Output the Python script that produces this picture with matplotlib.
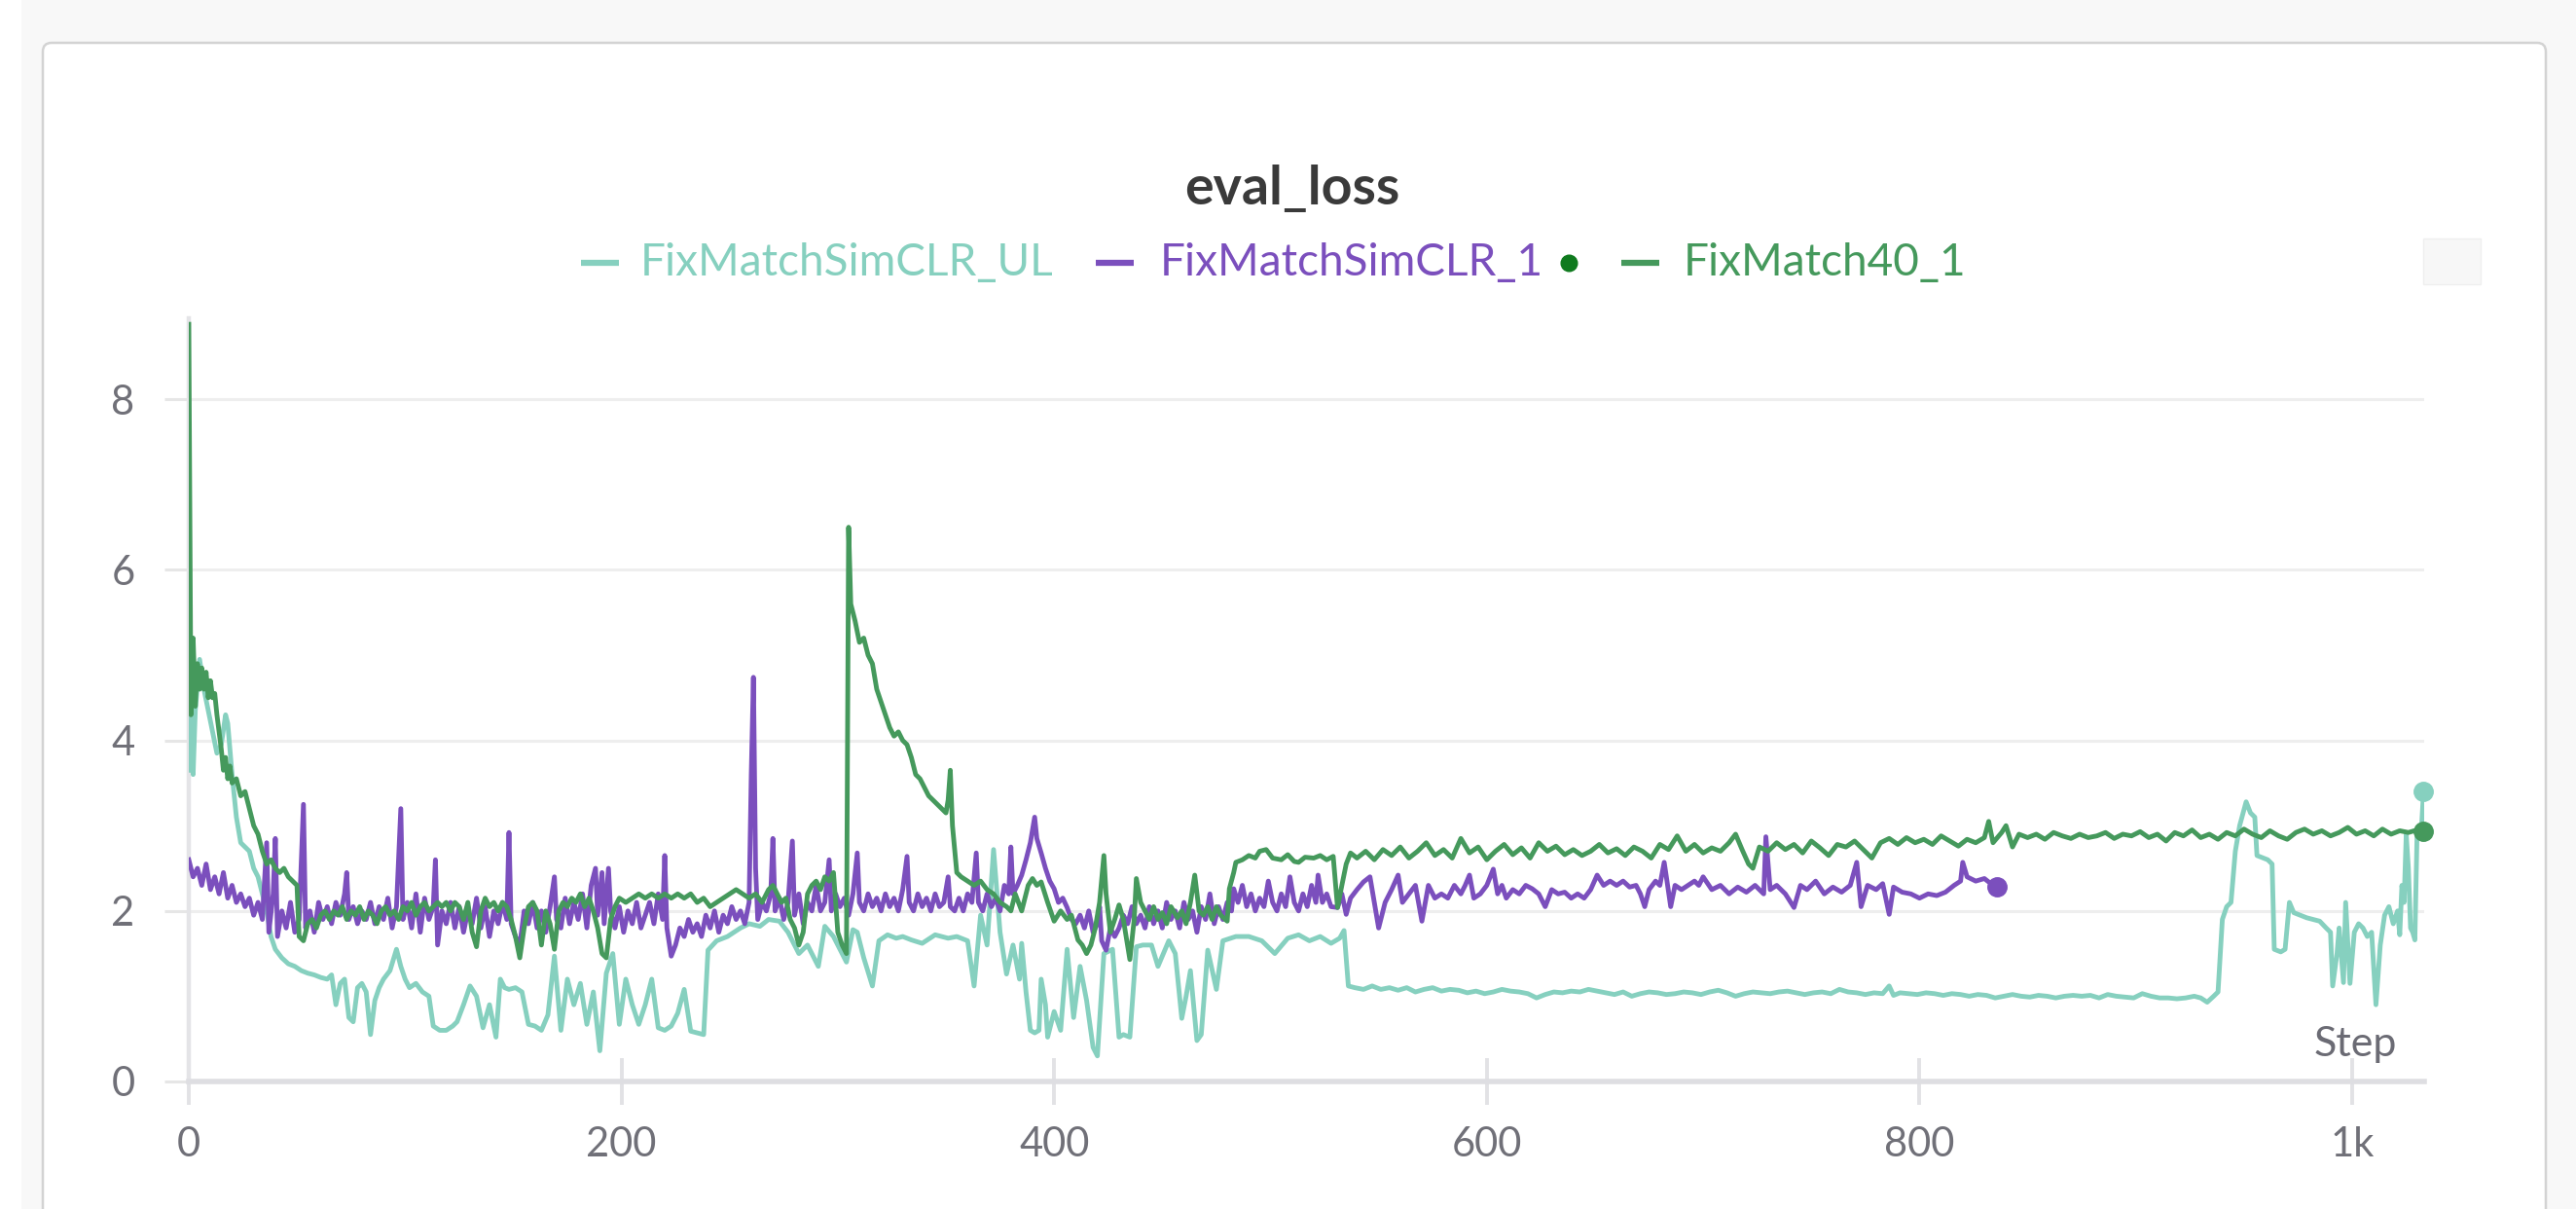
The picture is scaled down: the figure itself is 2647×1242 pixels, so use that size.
import matplotlib
matplotlib.use("Agg")
import matplotlib.pyplot as plt
from matplotlib.patches import FancyBboxPatch, Rectangle
from matplotlib.lines import Line2D

plt.rcParams["font.family"] = ["Lato", "DejaVu Sans"]

# eval_loss per step
ul_points = [
    (0, 3.65), (1, 4.4), (2, 3.6), (3, 4.35), (5, 4.95), (7, 4.6), (9, 4.35), (11, 4.1), (13, 3.85),
    (15, 3.95), (17, 4.3), (18, 4.2), (20, 3.6), (22, 3.1), (24, 2.8), (26, 2.75), (28, 2.7), (30, 2.5),
    (32, 2.4), (34, 2.2), (36, 2.0), (38, 1.7), (40, 1.55), (43, 1.45), (46, 1.38), (49, 1.35), (52, 1.3),
    (55, 1.27), (58, 1.25), (61, 1.22), (64, 1.2), (66, 1.25), (68, 0.9), (70, 1.15), (72, 1.2), (74, 0.75),
    (76, 0.7), (78, 1.1), (80, 1.15), (82, 1.05), (84, 0.55), (86, 0.95), (88, 1.1), (90, 1.2), (93, 1.3),
    (96, 1.55), (98, 1.35), (100, 1.2), (102, 1.1), (105, 1.15), (108, 1.05), (111, 1.0), (113, 0.65),
    (116, 0.6), (119, 0.6), (122, 0.65), (124, 0.7), (127, 0.9), (130, 1.12), (133, 1.0), (136, 0.63),
    (139, 0.9), (142, 0.52), (144, 1.2), (146, 1.1), (148, 1.08), (151, 1.1), (154, 1.05), (157, 0.67),
    (160, 0.65), (163, 0.6), (166, 0.78), (169, 1.47), (172, 0.6), (175, 1.2), (178, 0.9), (181, 1.15),
    (184, 0.67), (187, 1.05), (190, 0.36), (193, 1.27), (196, 1.5), (199, 0.67), (202, 1.2), (205, 0.9),
    (208, 0.67), (211, 0.9), (214, 1.2), (217, 0.63), (220, 0.6), (223, 0.65), (226, 0.8), (229, 1.08),
    (232, 0.59), (235, 0.57), (238, 0.55), (240, 1.54), (244, 1.65), (249, 1.7), (255, 1.8), (259, 1.85),
    (264, 1.82), (268, 1.9), (273, 1.88), (277, 1.75), (282, 1.5), (286, 1.6), (291, 1.35), (294, 1.82),
    (298, 1.7), (301, 1.55), (304, 1.4), (307, 1.78), (309, 1.75), (312, 1.45), (316, 1.12), (319, 1.65),
    (323, 1.72), (327, 1.68), (330, 1.7), (334, 1.66), (339, 1.62), (345, 1.72), (351, 1.68), (355, 1.7),
    (360, 1.65), (363, 1.12), (366, 1.95), (369, 1.6), (372, 2.72), (375, 1.75), (378, 1.26), (381, 1.6),
    (384, 1.2), (385, 1.62), (387, 1.05), (389, 0.6), (391, 0.57), (393, 0.6), (394, 1.2), (396, 0.9),
    (397, 0.52), (400, 0.82), (403, 0.6), (406, 1.55), (409, 0.75), (412, 1.35), (415, 0.95), (418, 0.4),
    (420, 0.3), (423, 1.5), (427, 1.55), (430, 0.52), (432, 0.55), (435, 0.52), (438, 1.58), (441, 1.6),
    (445, 1.6), (448, 1.35), (453, 1.65), (456, 1.5), (459, 0.74), (461, 1.0), (463, 1.3), (466, 0.48),
    (468, 0.55), (471, 1.54), (475, 1.08), (478, 1.65), (484, 1.7), (490, 1.7), (496, 1.65), (502, 1.5),
    (508, 1.68), (513, 1.72), (518, 1.65), (523, 1.7), (528, 1.62), (532, 1.68), (534, 1.77), (536, 1.12),
    (539, 1.1), (543, 1.08), (547, 1.12), (551, 1.08), (555, 1.1), (559, 1.07), (563, 1.1), (567, 1.05),
    (571, 1.08), (575, 1.1), (579, 1.06), (583, 1.08), (587, 1.07), (591, 1.04), (595, 1.06), (599, 1.03),
    (603, 1.05), (607, 1.08), (611, 1.06), (615, 1.05), (619, 1.03), (623, 0.98), (627, 1.02), (631, 1.05),
    (635, 1.04), (639, 1.06), (643, 1.05), (647, 1.08), (651, 1.06), (655, 1.04), (659, 1.02), (663, 1.05),
    (667, 1.0), (671, 1.03), (675, 1.05), (679, 1.04), (683, 1.02), (687, 1.03), (691, 1.05), (695, 1.04),
    (699, 1.02), (703, 1.05), (707, 1.07), (711, 1.04), (715, 1.0), (719, 1.03), (723, 1.05), (727, 1.04),
    (731, 1.03), (735, 1.05), (739, 1.06), (743, 1.04), (747, 1.02), (751, 1.04), (755, 1.05), (759, 1.03),
    (763, 1.08), (767, 1.05), (771, 1.04), (775, 1.02), (779, 1.04), (783, 1.03), (786, 1.12), (788, 1.01),
    (791, 1.04), (795, 1.03), (799, 1.02), (803, 1.04), (807, 1.03), (811, 1.01), (815, 1.03), (819, 1.02),
    (823, 1.0), (827, 1.02), (831, 1.01), (835, 0.98), (839, 1.0), (843, 1.02), (847, 1.0), (851, 0.99),
    (855, 1.01), (859, 1.0), (863, 0.98), (867, 1.0), (871, 1.01), (875, 1.0), (879, 1.01), (883, 0.98),
    (887, 1.02), (891, 1.0), (895, 0.99), (899, 0.98), (903, 1.03), (907, 1.0), (911, 0.98), (915, 0.98),
    (919, 0.97), (923, 0.98), (927, 1.0), (930, 0.98), (933, 0.93), (936, 1.0), (938, 1.05), (940, 1.9),
    (942, 2.05), (944, 2.1), (946, 2.7), (948, 3.0), (951, 3.28), (953, 3.15), (955, 3.1), (956, 2.65),
    (959, 2.62), (961, 2.6), (963, 2.55), (964, 1.55), (967, 1.52), (969, 1.55), (971, 2.1), (973, 1.98),
    (976, 1.95), (979, 1.92), (982, 1.9), (985, 1.88), (988, 1.8), (990, 1.75), (991, 1.12), (993, 1.5),
    (994, 1.8), (996, 1.16), (997, 2.1), (999, 1.15), (1001, 1.75), (1003, 1.85), (1005, 1.8), (1007, 1.7),
    (1009, 1.75), (1011, 0.9), (1013, 1.6), (1015, 1.95), (1017, 2.05), (1019, 1.85), (1021, 2.0),
    (1022, 1.72), (1023, 2.3), (1024, 2.1), (1025, 2.9), (1026, 2.5), (1027, 1.8), (1028, 1.75),
    (1029, 1.66), (1030, 2.9), (1031, 2.9), (1032, 2.95), (1033, 3.4),
]

simclr_points = [
    (0, 2.6), (2, 2.4), (4, 2.5), (6, 2.3), (8, 2.55), (10, 2.25), (12, 2.4), (14, 2.2), (16, 2.45),
    (18, 2.15), (20, 2.3), (22, 2.1), (24, 2.2), (26, 2.05), (28, 2.15), (30, 1.95), (32, 2.1), (34, 1.9),
    (36, 2.8), (37, 1.75), (39, 2.2), (40, 2.85), (41, 1.7), (43, 2.0), (45, 1.8), (47, 2.1), (49, 1.75),
    (51, 1.9), (53, 3.25), (54, 1.8), (56, 2.0), (58, 1.75), (60, 2.1), (62, 1.9), (64, 2.05), (66, 1.85),
    (68, 2.1), (70, 1.95), (72, 2.2), (73, 2.45), (74, 1.9), (76, 2.05), (78, 1.85), (80, 2.0), (82, 1.9),
    (84, 2.1), (86, 1.85), (88, 2.05), (90, 1.9), (92, 2.15), (94, 1.8), (96, 2.05), (98, 3.2), (99, 1.9),
    (101, 2.1), (103, 1.8), (105, 2.2), (107, 1.75), (109, 2.15), (111, 1.9), (113, 2.05), (114, 2.6),
    (115, 1.6), (117, 2.0), (119, 1.85), (121, 2.1), (123, 1.8), (125, 2.05), (127, 1.75), (129, 2.0),
    (131, 1.85), (133, 2.15), (135, 1.8), (137, 2.05), (139, 1.7), (141, 2.0), (143, 1.85), (145, 2.1),
    (147, 1.9), (148, 2.92), (149, 1.85), (151, 1.7), (153, 1.6), (155, 2.0), (157, 1.85), (159, 2.1),
    (161, 1.8), (163, 2.0), (165, 1.75), (167, 2.05), (169, 2.4), (170, 1.9), (172, 1.8), (174, 2.15),
    (176, 1.85), (178, 2.1), (180, 1.9), (182, 2.2), (184, 1.8), (186, 2.3), (188, 2.5), (189, 1.95),
    (191, 2.45), (192, 1.85), (194, 2.5), (195, 2.0), (197, 1.8), (199, 2.05), (201, 1.75), (203, 2.0),
    (205, 1.85), (207, 2.1), (209, 1.8), (211, 1.95), (213, 2.1), (215, 1.85), (217, 2.2), (219, 1.9),
    (220, 2.65), (221, 1.8), (223, 1.47), (225, 1.6), (227, 1.8), (229, 1.7), (231, 1.9), (233, 1.75),
    (235, 1.85), (237, 1.7), (239, 1.95), (241, 1.8), (243, 2.0), (245, 1.75), (247, 1.95), (249, 1.85),
    (251, 2.05), (253, 1.9), (255, 2.0), (257, 1.85), (259, 2.1), (260, 3.6), (261, 4.74), (262, 2.5),
    (263, 1.9), (265, 2.1), (267, 2.0), (269, 2.2), (270, 2.85), (271, 2.0), (273, 2.15), (275, 1.9),
    (277, 2.1), (279, 2.82), (280, 1.95), (282, 2.2), (284, 1.85), (286, 2.1), (288, 2.0), (290, 2.3),
    (292, 2.0), (294, 2.1), (296, 2.6), (297, 2.0), (299, 2.2), (301, 2.05), (303, 2.15), (305, 1.95),
    (307, 2.2), (309, 2.68), (310, 2.1), (312, 2.0), (314, 2.2), (316, 2.05), (318, 2.15), (320, 2.0),
    (322, 2.2), (324, 2.05), (326, 2.15), (328, 2.0), (330, 2.25), (332, 2.64), (333, 2.1), (335, 2.0),
    (337, 2.2), (339, 2.05), (341, 2.15), (343, 2.0), (345, 2.2), (347, 2.05), (349, 2.1), (351, 2.4),
    (352, 2.05), (354, 2.0), (356, 2.15), (358, 2.0), (360, 2.2), (362, 2.1), (364, 2.68), (365, 2.1),
    (367, 2.0), (369, 2.2), (371, 2.05), (373, 2.15), (375, 2.0), (377, 2.3), (379, 2.2), (380, 2.75),
    (381, 2.2), (383, 2.3), (385, 2.42), (387, 2.6), (389, 2.8), (391, 3.1), (392, 2.85), (394, 2.68),
    (396, 2.5), (398, 2.35), (400, 2.26), (402, 2.1), (404, 2.15), (406, 2.04), (408, 1.9), (410, 1.85),
    (412, 1.95), (414, 1.8), (416, 2.0), (418, 1.75), (420, 1.85), (421, 2.05), (422, 1.65), (424, 1.54),
    (426, 1.8), (428, 1.7), (430, 1.8), (432, 1.95), (434, 1.85), (436, 2.05), (438, 1.85), (440, 1.95),
    (442, 1.8), (444, 2.05), (446, 1.85), (448, 2.0), (450, 1.8), (452, 2.1), (454, 1.9), (456, 2.0),
    (458, 1.8), (460, 2.1), (462, 1.9), (464, 2.0), (466, 1.75), (468, 2.05), (470, 1.9), (472, 2.2),
    (474, 1.85), (476, 2.05), (478, 1.9), (480, 2.1), (482, 2.0), (483, 2.26), (485, 2.1), (487, 2.3),
    (489, 2.05), (491, 2.2), (493, 2.0), (495, 2.15), (497, 2.05), (499, 2.35), (501, 2.1), (503, 2.0),
    (505, 2.2), (507, 2.05), (509, 2.4), (511, 2.1), (513, 2.0), (515, 2.2), (517, 2.05), (519, 2.3),
    (521, 2.1), (522, 2.42), (524, 2.1), (526, 2.2), (528, 2.05), (531, 2.04), (533, 2.2), (535, 1.96),
    (537, 2.15), (540, 2.25), (543, 2.34), (546, 2.4), (548, 2.1), (550, 1.8), (552, 2.0), (553, 2.1),
    (556, 2.25), (559, 2.42), (561, 2.1), (564, 2.2), (567, 2.3), (570, 1.88), (573, 2.3), (576, 2.15),
    (579, 2.2), (582, 2.15), (585, 2.3), (588, 2.2), (590, 2.3), (592, 2.42), (594, 2.15), (597, 2.2),
    (600, 2.3), (603, 2.49), (605, 2.2), (607, 2.3), (609, 2.15), (612, 2.25), (615, 2.2), (618, 2.3),
    (621, 2.26), (624, 2.2), (627, 2.05), (630, 2.25), (633, 2.2), (636, 2.22), (639, 2.15), (642, 2.2),
    (645, 2.15), (648, 2.25), (651, 2.42), (654, 2.3), (657, 2.35), (660, 2.3), (663, 2.35), (666, 2.28),
    (669, 2.3), (671, 2.2), (673, 2.05), (675, 2.25), (678, 2.35), (680, 2.3), (682, 2.57), (683, 2.4),
    (685, 2.05), (687, 2.3), (690, 2.25), (693, 2.3), (696, 2.35), (698, 2.3), (700, 2.4), (704, 2.25),
    (708, 2.3), (712, 2.2), (716, 2.28), (720, 2.22), (724, 2.3), (728, 2.2), (729, 2.87), (731, 2.25),
    (734, 2.3), (738, 2.2), (742, 2.04), (745, 2.3), (748, 2.25), (752, 2.35), (756, 2.2), (760, 2.28),
    (764, 2.22), (768, 2.3), (771, 2.57), (773, 2.05), (776, 2.3), (780, 2.25), (783, 2.32), (786, 1.96),
    (788, 2.28), (792, 2.22), (796, 2.2), (800, 2.15), (804, 2.2), (808, 2.18), (812, 2.22), (816, 2.3),
    (819, 2.35), (820, 2.57), (822, 2.4), (826, 2.35), (830, 2.38), (833, 2.32), (836, 2.28),
]

fm40_points = [
    (0, 8.88), (1, 4.3), (2, 5.2), (3, 4.4), (4, 4.9), (5, 4.6), (6, 4.85), (7, 4.6), (8, 4.8), (9, 4.5),
    (10, 4.7), (11, 4.5), (12, 4.55), (13, 4.3), (14, 4.1), (15, 3.9), (16, 3.65), (17, 3.8), (18, 3.55),
    (19, 3.7), (20, 3.5), (22, 3.55), (24, 3.35), (26, 3.4), (28, 3.2), (30, 3.0), (32, 2.9), (34, 2.7),
    (36, 2.55), (38, 2.6), (40, 2.5), (42, 2.45), (44, 2.5), (46, 2.4), (48, 2.35), (50, 2.3), (51, 1.7),
    (53, 1.65), (55, 1.85), (57, 1.9), (59, 1.8), (61, 1.95), (63, 2.0), (65, 1.9), (67, 2.0), (69, 1.95),
    (71, 2.05), (73, 1.9), (75, 2.0), (77, 1.95), (79, 2.05), (81, 1.9), (83, 2.0), (85, 1.95), (87, 1.85),
    (89, 2.0), (91, 2.05), (93, 1.95), (95, 2.0), (97, 1.9), (99, 2.05), (101, 2.0), (103, 2.1), (105, 1.95),
    (107, 2.05), (109, 2.1), (111, 2.0), (113, 2.05), (115, 2.1), (117, 2.05), (119, 2.1), (121, 2.0),
    (123, 2.1), (125, 2.05), (127, 1.9), (129, 2.1), (131, 1.75), (133, 1.58), (135, 2.0), (137, 2.15),
    (139, 2.05), (141, 2.1), (143, 2.0), (145, 2.1), (147, 2.05), (149, 1.9), (151, 1.7), (153, 1.45),
    (155, 1.8), (157, 2.05), (159, 2.1), (161, 2.0), (163, 1.6), (165, 2.0), (167, 1.85), (169, 1.55),
    (171, 2.0), (173, 2.1), (175, 2.05), (177, 2.15), (179, 2.1), (181, 2.2), (183, 2.05), (185, 2.15),
    (187, 2.0), (189, 1.8), (191, 1.5), (193, 1.45), (195, 1.9), (197, 2.05), (199, 2.15), (202, 2.1),
    (205, 2.15), (208, 2.2), (211, 2.15), (214, 2.2), (217, 2.15), (220, 2.2), (223, 2.15), (226, 2.2),
    (229, 2.15), (232, 2.2), (235, 2.1), (238, 2.15), (241, 2.05), (244, 2.1), (247, 2.15), (250, 2.2),
    (253, 2.25), (256, 2.2), (259, 2.15), (262, 2.2), (265, 2.1), (268, 2.25), (270, 2.3), (272, 2.2),
    (274, 2.1), (276, 2.15), (278, 1.9), (280, 1.8), (282, 1.6), (284, 1.75), (286, 2.2), (288, 2.3),
    (290, 2.35), (292, 2.25), (294, 2.4), (296, 2.35), (298, 2.45), (300, 1.75), (302, 1.6), (304, 1.5),
    (305, 6.5), (306, 5.6), (308, 5.4), (310, 5.15), (312, 5.2), (314, 5.0), (316, 4.9), (318, 4.6),
    (320, 4.45), (322, 4.3), (324, 4.15), (326, 4.05), (328, 4.1), (330, 4.0), (332, 3.95), (334, 3.8),
    (336, 3.6), (338, 3.55), (340, 3.45), (342, 3.35), (344, 3.3), (346, 3.25), (348, 3.2), (350, 3.15),
    (351, 3.3), (352, 3.65), (353, 3.0), (355, 2.45), (357, 2.4), (360, 2.35), (363, 2.3), (366, 2.35),
    (369, 2.25), (372, 2.2), (375, 2.1), (378, 2.05), (380, 2.0), (382, 2.2), (385, 2.0), (388, 2.3),
    (390, 2.38), (392, 2.3), (394, 2.34), (397, 2.1), (400, 1.88), (403, 2.0), (406, 1.9), (408, 1.95),
    (411, 1.66), (413, 1.6), (415, 1.5), (417, 1.6), (419, 1.8), (421, 2.1), (423, 2.65), (424, 2.2),
    (426, 1.75), (428, 1.9), (430, 2.07), (432, 1.9), (435, 1.43), (437, 1.9), (438, 2.38), (440, 2.1),
    (442, 2.0), (444, 1.9), (446, 2.05), (448, 1.9), (450, 1.98), (452, 1.85), (454, 2.05), (457, 1.92),
    (459, 2.0), (461, 1.85), (463, 2.1), (465, 2.42), (467, 2.0), (469, 1.95), (471, 2.05), (473, 1.9),
    (475, 2.05), (477, 1.95), (480, 1.88), (481, 2.26), (483, 2.45), (484, 2.57), (487, 2.6), (490, 2.65),
    (493, 2.62), (495, 2.7), (498, 2.72), (501, 2.62), (505, 2.6), (508, 2.66), (511, 2.58), (513, 2.57),
    (516, 2.63), (520, 2.62), (523, 2.65), (526, 2.6), (529, 2.64), (531, 2.04), (533, 2.3), (535, 2.55),
    (537, 2.68), (540, 2.62), (544, 2.7), (548, 2.6), (552, 2.72), (556, 2.65), (560, 2.75), (564, 2.62),
    (568, 2.7), (572, 2.8), (576, 2.65), (580, 2.72), (584, 2.62), (588, 2.85), (592, 2.68), (596, 2.75),
    (600, 2.6), (604, 2.7), (608, 2.78), (612, 2.66), (616, 2.74), (620, 2.62), (624, 2.8), (628, 2.7),
    (632, 2.76), (636, 2.66), (640, 2.72), (644, 2.65), (648, 2.7), (652, 2.78), (656, 2.68), (660, 2.73),
    (664, 2.65), (668, 2.75), (672, 2.7), (676, 2.62), (680, 2.78), (684, 2.72), (688, 2.88), (692, 2.7),
    (696, 2.78), (700, 2.68), (704, 2.74), (708, 2.7), (712, 2.8), (715, 2.9), (718, 2.72), (721, 2.55),
    (723, 2.5), (726, 2.75), (730, 2.7), (734, 2.8), (738, 2.72), (742, 2.78), (746, 2.68), (750, 2.82),
    (754, 2.74), (758, 2.65), (762, 2.78), (766, 2.75), (770, 2.82), (774, 2.72), (778, 2.62), (782, 2.8),
    (786, 2.85), (790, 2.78), (794, 2.86), (798, 2.8), (802, 2.84), (806, 2.78), (810, 2.88), (814, 2.82),
    (818, 2.76), (822, 2.84), (826, 2.8), (830, 2.86), (832, 3.05), (834, 2.8), (838, 2.92), (840, 3.0),
    (843, 2.75), (846, 2.9), (850, 2.86), (854, 2.9), (858, 2.84), (862, 2.92), (866, 2.88), (870, 2.85),
    (874, 2.9), (878, 2.86), (882, 2.88), (886, 2.92), (890, 2.85), (894, 2.9), (898, 2.88), (902, 2.93),
    (906, 2.86), (910, 2.9), (914, 2.82), (918, 2.92), (922, 2.88), (926, 2.95), (930, 2.86), (934, 2.9),
    (938, 2.84), (942, 2.92), (946, 2.88), (950, 2.96), (954, 2.9), (958, 2.86), (962, 2.94), (966, 2.88),
    (970, 2.84), (974, 2.92), (978, 2.96), (982, 2.9), (986, 2.94), (990, 2.88), (994, 2.92), (998, 2.98),
    (1002, 2.9), (1006, 2.94), (1010, 2.88), (1014, 2.96), (1018, 2.9), (1022, 2.94), (1026, 2.92),
    (1030, 2.95), (1033, 2.93),
]

run_names = ["FixMatchSimCLR_UL", "FixMatchSimCLR_1", "FixMatch40_1"]
run_colors = ["#86d0bf", "#7b4fbd", "#45995c"]
x_ticks = [0, 200, 400, 600, 800, 1000]
x_labels = ["0", "200", "400", "600", "800", "1k"]
y_ticks = [0, 2, 4, 6, 8]

W, H = 2647, 1242
fig = plt.figure(figsize=(W / 100, H / 100), dpi=100, facecolor="#f8f8f8")

# page background + card
fig.patches.append(Rectangle((0, 0), 22 / W, 1, transform=fig.transFigure,
                             facecolor="white", edgecolor="none", zorder=-3))
card = FancyBboxPatch((0.44, -0.5), 26.16 - 0.44, 11.98 + 0.5,
                      boxstyle="round,pad=0,rounding_size=0.09",
                      transform=fig.dpi_scale_trans, facecolor="white",
                      edgecolor="#d3d3d3", linewidth=1.8, zorder=-2)
fig.patches.append(card)
fig.patches.append(Rectangle((2490 / W, 1 - 292 / H), 59 / W, 47 / H, transform=fig.transFigure,
                             facecolor="#f7f7f7", edgecolor="#efefef", linewidth=1, zorder=-1))

ax = fig.add_axes([194 / W, 131 / H, (2491 - 194) / W, (915 - 131) / H])
ax.set_zorder(2)
ax.set_facecolor("none")

series = [ul_points, simclr_points, fm40_points]
for pts, color in zip(series, run_colors):
    xs = [p[0] for p in pts]
    ys = [p[1] for p in pts]
    ax.plot(xs, ys, color=color, lw=3.5, solid_joinstyle="round", zorder=3)
    ax.plot(xs[-1:], ys[-1:], "o", color=color, ms=14, clip_on=False, zorder=4)

ax.set_xlim(0, 1033.3)
ax.set_ylim(0, 8.95)
ax.set_xticks(x_ticks)
ax.set_xticklabels(x_labels)
ax.set_yticks(y_ticks)

for s in ["top", "right"]:
    ax.spines[s].set_visible(False)
ax.spines["left"].set_color("#e4e4e7")
ax.spines["left"].set_linewidth(3.2)
ax.spines["bottom"].set_color("#dedee2")
ax.spines["bottom"].set_linewidth(4.0)

ax.grid(axis="y", color="#eeeeee", lw=2.2, zorder=0)
ax.tick_params(axis="x", direction="inout", length=34, width=2.8, color="#e2e2e5",
               labelsize=30, labelcolor="#707078", pad=16)
ax.tick_params(axis="y", direction="out", length=18, width=2.2, color="#e6e6e6",
               labelsize=30, labelcolor="#707078", pad=22)

fig.text(2463 / W, 1 - 1073 / H, "Step", ha="right", va="center",
         fontsize=31, color="#6b6b74", zorder=5)

fig.text(1328 / W, 1 - 194 / H, "eval_loss", ha="center", va="center",
         fontsize=40, fontweight="bold", color="#3a3a3a")

# legend row
leg_y = 1 - 270 / H
dash_x = [(597, 636), (1126, 1165), (1666, 1705)]
text_x = [658, 1192, 1730]
for (x0, x1), tx, name, color in zip(dash_x, text_x, run_names, run_colors):
    fig.add_artist(Line2D([x0 / W, x1 / W], [leg_y, leg_y], transform=fig.transFigure,
                          color=color, lw=4.5, solid_capstyle="butt"))
    fig.text(tx / W, leg_y, name, ha="left", va="center", fontsize=33, color=color)
fig.add_artist(Line2D([1612 / W], [leg_y], transform=fig.transFigure, marker="o",
                      ms=12, color="#0f7a1e", lw=0))

fig.savefig("out.png", dpi=100, facecolor=fig.get_facecolor())
